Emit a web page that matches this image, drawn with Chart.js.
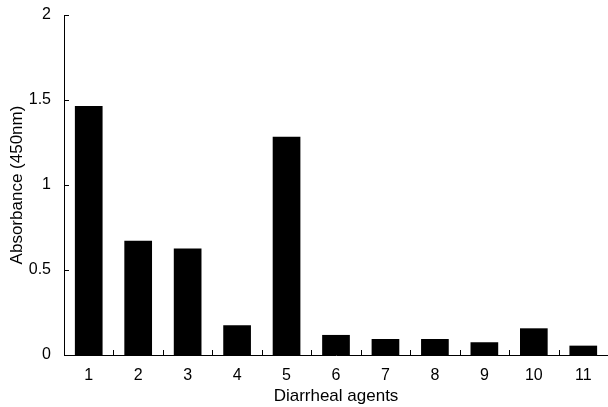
<!DOCTYPE html>
<html>
<head>
<meta charset="utf-8">
<script src="https://cdn.jsdelivr.net/npm/chart.js@4"></script>
<style>
  html, body { margin: 0; padding: 0; background: #fff; }
  #wrap { width: 608px; height: 407px; }
</style>
</head>
<body>
<div id="wrap"><canvas id="c" width="608" height="407"></canvas></div>
<script>
const agents = ['1','2','3','4','5','6','7','8','9','10','11'];
const absorbance = [1.465, 0.672, 0.627, 0.175, 1.284, 0.118, 0.094, 0.094, 0.075, 0.157, 0.055];
const yTicks = [0, 0.5, 1, 1.5, 2];

const TICK_FONT = { family: 'Liberation Sans, Arial, sans-serif', size: 16 };
const TITLE_FONT = { family: 'Liberation Sans, Arial, sans-serif', size: 17 };

// little ticks pointing into the plot, like the original figure
const innerTicks = {
	id: 'innerTicks',
	afterDraw(chart){
		const ctx = chart.ctx, x = chart.scales.x, y = chart.scales.y;
		const len = 5;
		ctx.save();
		ctx.strokeStyle = '#000';
		ctx.lineWidth = 1;
		ctx.beginPath();
		yTicks.forEach(v => {
			const py = Math.round(y.getPixelForValue(v)) + 0.5;
			ctx.moveTo(x.left, py);
			ctx.lineTo(x.left + len, py);
		});
		const step = x.getPixelForValue(1) - x.getPixelForValue(0);
		for(let i = 0; i < agents.length - 1; i++){
			const px = Math.round(x.getPixelForValue(i) + step / 2) + 0.5;
			ctx.moveTo(px, y.bottom);
			ctx.lineTo(px, y.bottom - len);
		}
		ctx.stroke();
		ctx.restore();
	}
};

new Chart(document.getElementById('c').getContext('2d'), {
	type: 'bar',
	data: {
		labels: agents,
		datasets: [{
			data: absorbance,
			backgroundColor: '#000',
			borderWidth: 0,
			barPercentage: 0.56,
			categoryPercentage: 1
		}]
	},
	options: {
		responsive: false,
		animation: false,
		layout: { padding: { top: 15, right: 0, left: 0, bottom: 0 } },
		plugins: { legend: { display: false }, tooltip: { enabled: false } },
		scales: {
			x: {
				grid: { display: false, drawTicks: false },
				border: { display: true, color: '#000', width: 1 },
				ticks: { color: '#000', font: TICK_FONT, padding: 11, maxRotation: 0 },
				title: { display: true, text: 'Diarrheal agents', color: '#000', font: TITLE_FONT, padding: { top: 0, bottom: 0 } },
				afterFit(s){ s.height = 52; s.paddingLeft = 0; s.paddingRight = 0; }
			},
			y: {
				min: 0, max: 2,
				afterBuildTicks(s){ s.ticks = yTicks.map(v => ({ value: v })); },
				grid: { display: false, drawTicks: false },
				border: { display: true, color: '#000', width: 1 },
				ticks: { color: '#000', font: TICK_FONT, padding: 13, callback: v => String(v) },
				title: { display: true, text: 'Absorbance (450nm)', color: '#000', font: TITLE_FONT, padding: { top: 7, bottom: 0 } },
				afterFit(s){ s.width = 64; s.paddingTop = 0; s.paddingBottom = 0; }
			}
		}
	},
	plugins: [innerTicks]
});
</script>
</body>
</html>
